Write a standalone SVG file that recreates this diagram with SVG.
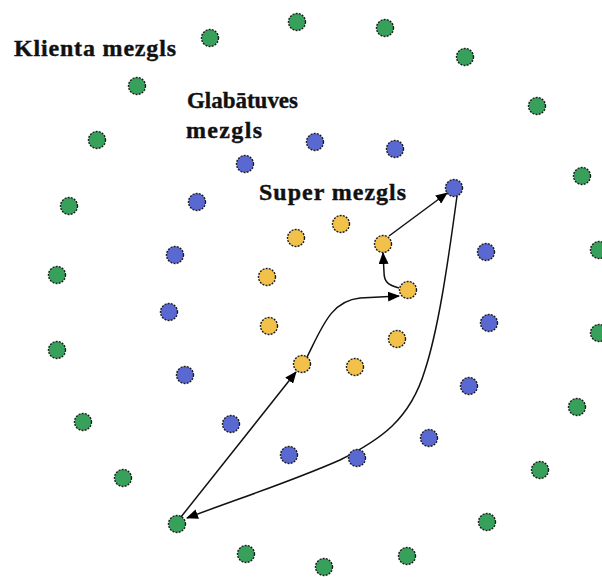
<svg xmlns="http://www.w3.org/2000/svg" xmlns:xlink="http://www.w3.org/1999/xlink" width="602" height="577" viewBox="0 0 602 577">
<style>
.n circle{stroke:#1a1a1a;stroke-width:1.4;stroke-dasharray:2 1.2}
.c circle{fill:#37a05a}
.s circle{fill:#5a68d2}
.p circle{fill:#f1c14a}
.lbl{font-family:"Liberation Serif","Times New Roman",serif;font-weight:bold;font-size:24px;fill:#111;stroke:#111;stroke-width:0.4}
.e{fill:none;stroke:#111;stroke-width:1.5}
</style>
<defs>
<marker id="ah" viewBox="0 0 12 10" refX="11" refY="5" markerWidth="12" markerHeight="10" markerUnits="userSpaceOnUse" orient="auto">
<path d="M0,0 L12,5 L0,10 z" fill="#000"/>
</marker>
</defs>
<rect width="602" height="577" fill="#fff"/>
<g id="labels">
<text class="lbl" x="14" y="56" textLength="162" lengthAdjust="spacing">Klienta mezgls</text>
<text class="lbl" x="187" y="108" textLength="111" lengthAdjust="spacingAndGlyphs">Glabātuves</text>
<text class="lbl" x="186" y="138" textLength="76" lengthAdjust="spacing">mezgls</text>
<text class="lbl" x="259" y="200" textLength="147" lengthAdjust="spacing">Super mezgls</text>
</g>
<g id="connectors">
<path class="e" d="M177,522 L296,372" marker-end="url(#ah)"/>
<path class="e" d="M305,361 C322,328 330,301 360,298 L399,296" marker-end="url(#ah)"/>
<path class="e" d="M399,288 C388,285 384,282 384,272 L383,253" marker-end="url(#ah)"/>
<path class="e" d="M389,236 L447,193" marker-end="url(#ah)"/>
<path class="e" d="M457,196 C447,270 438,330 425,370 C410,420 380,440 340,460 C290,482 240,498 187,518" marker-end="url(#ah)"/>
</g>
<g id="client-nodes" class="n c">
<g id="c1"><circle cx="210" cy="38" r="8.5"/></g>
<g id="c2"><circle cx="297" cy="22" r="8.5"/></g>
<g id="c3"><circle cx="385" cy="28" r="8.5"/></g>
<g id="c4"><circle cx="465" cy="57" r="8.5"/></g>
<g id="c5"><circle cx="137" cy="86" r="8.5"/></g>
<g id="c6"><circle cx="537" cy="106" r="8.5"/></g>
<g id="c7"><circle cx="97" cy="140" r="8.5"/></g>
<g id="c8"><circle cx="582" cy="176" r="8.5"/></g>
<g id="c9"><circle cx="69" cy="206" r="8.5"/></g>
<g id="c10"><circle cx="599" cy="250" r="8.5"/></g>
<g id="c11"><circle cx="57" cy="275" r="8.5"/></g>
<g id="c12"><circle cx="599" cy="333" r="8.5"/></g>
<g id="c13"><circle cx="57" cy="350" r="8.5"/></g>
<g id="c14"><circle cx="577" cy="407" r="8.5"/></g>
<g id="c15"><circle cx="83" cy="422" r="8.5"/></g>
<g id="c16"><circle cx="540" cy="470" r="8.5"/></g>
<g id="c17"><circle cx="123" cy="478" r="8.5"/></g>
<g id="c18"><circle cx="487" cy="522" r="8.5"/></g>
<g id="c19"><circle cx="177" cy="524" r="8.5"/></g>
<g id="c20"><circle cx="246" cy="554" r="8.5"/></g>
<g id="c21"><circle cx="324" cy="567" r="8.5"/></g>
<g id="c22"><circle cx="407" cy="556" r="8.5"/></g>
</g>
<g id="storage-nodes" class="n s">
<g id="s1"><circle cx="315" cy="142" r="8.5"/></g>
<g id="s2"><circle cx="395" cy="149" r="8.5"/></g>
<g id="s3"><circle cx="245" cy="164" r="8.5"/></g>
<g id="s4"><circle cx="454" cy="188" r="8.5"/></g>
<g id="s5"><circle cx="197" cy="202" r="8.5"/></g>
<g id="s6"><circle cx="175" cy="255" r="8.5"/></g>
<g id="s7"><circle cx="486" cy="252" r="8.5"/></g>
<g id="s8"><circle cx="169" cy="312" r="8.5"/></g>
<g id="s9"><circle cx="489" cy="323" r="8.5"/></g>
<g id="s10"><circle cx="185" cy="375" r="8.5"/></g>
<g id="s11"><circle cx="469" cy="386" r="8.5"/></g>
<g id="s12"><circle cx="231" cy="424" r="8.5"/></g>
<g id="s13"><circle cx="429" cy="438" r="8.5"/></g>
<g id="s14"><circle cx="289" cy="455" r="8.5"/></g>
<g id="s15"><circle cx="357" cy="458" r="8.5"/></g>
</g>
<g id="super-nodes" class="n p">
<g id="p1"><circle cx="341" cy="224" r="8.5"/></g>
<g id="p2"><circle cx="296" cy="238" r="8.5"/></g>
<g id="p3"><circle cx="383" cy="244" r="8.5"/></g>
<g id="p4"><circle cx="267" cy="277" r="8.5"/></g>
<g id="p5"><circle cx="408" cy="290" r="8.5"/></g>
<g id="p6"><circle cx="269" cy="326" r="8.5"/></g>
<g id="p7"><circle cx="397" cy="339" r="8.5"/></g>
<g id="p8"><circle cx="302" cy="364" r="8.5"/></g>
<g id="p9"><circle cx="355" cy="367" r="8.5"/></g>
</g>
</svg>
